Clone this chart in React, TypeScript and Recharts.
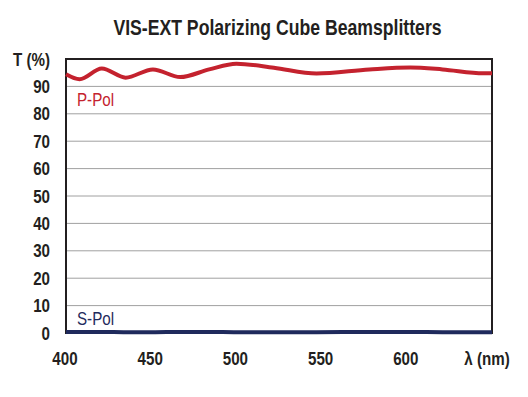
import { LineChart, Line, XAxis, YAxis, CartesianGrid, ReferenceArea } from 'recharts';

const wavelengths = [400, 408, 421, 435, 451, 467, 484, 500, 522, 547, 578, 602, 621, 645, 650];
const pPol = [94.4, 92.6, 96.5, 93.2, 96.2, 93.4, 96.2, 98.3, 96.8, 94.7, 96.2, 96.9, 96.2, 94.8, 94.8];
const sPol = [0.4, 0.4, 0.4, 0.3, 0.3, 0.4, 0.4, 0.3, 0.3, 0.3, 0.4, 0.4, 0.3, 0.3, 0.3];
const xTicks = [400, 450, 500, 550, 600, 650];
const yTicks = [0, 10, 20, 30, 40, 50, 60, 70, 80, 90, 100];

const data = wavelengths.map((w, i) => ({ w, p: pPol[i], s: sPol[i] }));

// no narrow font installed, so squeeze Liberation Sans horizontally
const font = '"Liberation Sans", Arial, sans-serif';
const squeeze = 0.82;
const ink = '#231f20';
const red = '#c4222e';
const navy = '#1f2a5c';

function XTick({ x, y, payload }: any) {
  const last = payload.value === 650;
  const cx = last ? x - 5 : x - 1;
  return (
    <text
      transform={`translate(${cx},${y}) scale(${squeeze},1)`}
      x={0}
      y={0}
      dy="0.71em"
      textAnchor="middle"
      fontFamily={font}
      fontWeight="bold"
      fontSize={18.5}
      fill={ink}
    >
      {last ? 'λ (nm)' : payload.value}
    </text>
  );
}

function YTick({ x, y, payload }: any) {
  return (
    <text
      transform={`translate(${x},${y}) scale(${squeeze},1)`}
      x={0}
      y={0}
      dy="0.355em"
      textAnchor="end"
      fontFamily={font}
      fontWeight="bold"
      fontSize={18.5}
      fill={ink}
    >
      {payload.value === 100 ? 'T (%)' : payload.value}
    </text>
  );
}

const seriesLabel = (color: string, top: number) => ({
  position: 'absolute' as const,
  left: 77,
  top,
  fontFamily: font,
  fontSize: 18.5,
  color,
  transform: `scaleX(${squeeze})`,
  transformOrigin: 'left top',
});

export default function App() {
  return (
    <div style={{ position: 'absolute', left: 0, top: 0, width: 528, height: 397, background: '#fff' }}>
      <div
        style={{
          position: 'absolute',
          left: 0,
          width: 555,
          top: 16,
          textAlign: 'center',
          fontFamily: font,
          fontWeight: 'bold',
          fontSize: 21.5,
          color: ink,
          transform: `scaleX(${squeeze})`,
          transformOrigin: '277.5px 0',
        }}
      >
        VIS-EXT Polarizing Cube Beamsplitters
      </div>
      <LineChart
        width={528}
        height={397}
        data={data}
        margin={{ top: 59, right: 36, left: 0, bottom: 0 }}
      >
        <CartesianGrid vertical={false} stroke="#a0a0a0" strokeWidth={1} horizontalValues={[10, 20, 30, 40, 50, 60, 70, 80, 90]} />
        <XAxis
          dataKey="w"
          type="number"
          domain={[400, 650]}
          ticks={xTicks}
          height={64}
          axisLine={false}
          tickLine={false}
          tickSize={0}
          tickMargin={19}
          tick={<XTick />}
          interval={0}
        />
        <YAxis
          type="number"
          domain={[0, 100]}
          ticks={yTicks}
          width={66}
          axisLine={false}
          tickLine={false}
          tickSize={0}
          tickMargin={16}
          tick={<YTick />}
          interval={0}
        />
        <ReferenceArea x1={400} x2={650} y1={0} y2={100} fill="none" stroke={ink} strokeWidth={2} />
        <Line
          type="monotone"
          dataKey="p"
          stroke={red}
          strokeWidth={4}
          dot={false}
          isAnimationActive={false}
        />
        <Line
          type="monotone"
          dataKey="s"
          stroke={navy}
          strokeWidth={4}
          dot={false}
          isAnimationActive={false}
        />
      </LineChart>
      <div style={seriesLabel(red, 89)}>P-Pol</div>
      <div style={seriesLabel(navy, 308)}>S-Pol</div>
    </div>
  );
}
